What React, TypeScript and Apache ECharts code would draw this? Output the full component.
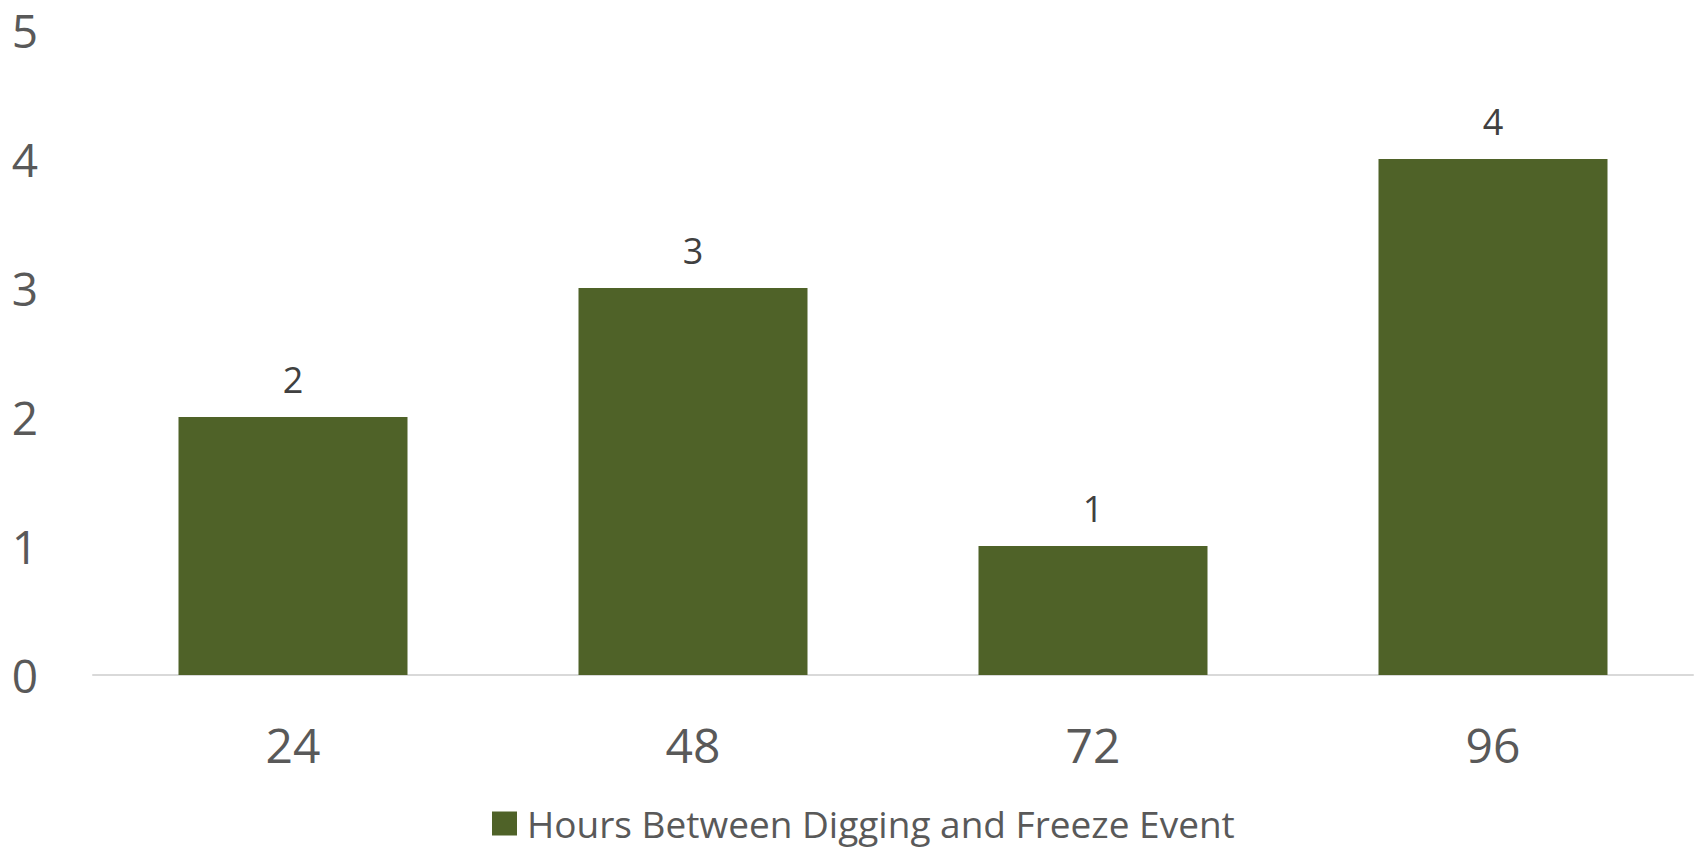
import React, { useEffect, useRef } from "react";
import * as echarts from "echarts";

const categories = ["24", "48", "72", "96"];
const values = [2, 3, 1, 4];
const seriesName = "Hours Between Digging and Freeze Event";
const yTicks = { min: 0, max: 5, interval: 1 };

export default function App() {
  const ref = useRef<HTMLDivElement>(null);
  useEffect(() => {
    if (!ref.current) return;
    const chart = echarts.init(ref.current, undefined, { renderer: "svg" });
    const font = "'Open Sans', sans-serif";
    chart.setOption({
      animation: false,
      grid: { left: 93, right: 5, top: 30, bottom: 175, containLabel: false },
      legend: {
        data: [seriesName],
        left: 487,
        top: 800,
        itemWidth: 25,
        itemHeight: 24,
        itemGap: 10,
        icon: "rect",
        textStyle: { fontFamily: font, fontSize: 37, color: "#595959", padding: [0, 0, 0, 5] },
      },
      xAxis: {
        type: "category",
        data: categories,
        axisLine: { show: true, lineStyle: { color: "#D9D9D9", width: 2 } },
        axisTick: { show: false },
        axisLabel: { fontFamily: font, fontSize: 48, color: "#595959", margin: 45 },
      },
      yAxis: {
        type: "value",
        min: yTicks.min,
        max: yTicks.max,
        interval: yTicks.interval,
        splitLine: { show: false },
        axisLine: { show: false },
        axisTick: { show: false },
        axisLabel: { fontFamily: font, fontSize: 46, lineHeight: 36, color: "#595959", margin: 55 },
      },
      series: [
        {
          name: seriesName,
          type: "bar",
          data: values,
          barCategoryGap: "42.75%",
          itemStyle: { color: "#4F6228" },
          label: {
            show: true,
            position: "top",
            distance: 20,
            fontFamily: font,
            fontSize: 36,
            color: "#404040",
          },
        },
      ],
    });
    return () => chart.dispose();
  }, []);
  return (
    <div
      ref={ref}
      style={{ position: "fixed", left: 0, top: 0, width: 1698, height: 850, background: "#fff" }}
    />
  );
}
